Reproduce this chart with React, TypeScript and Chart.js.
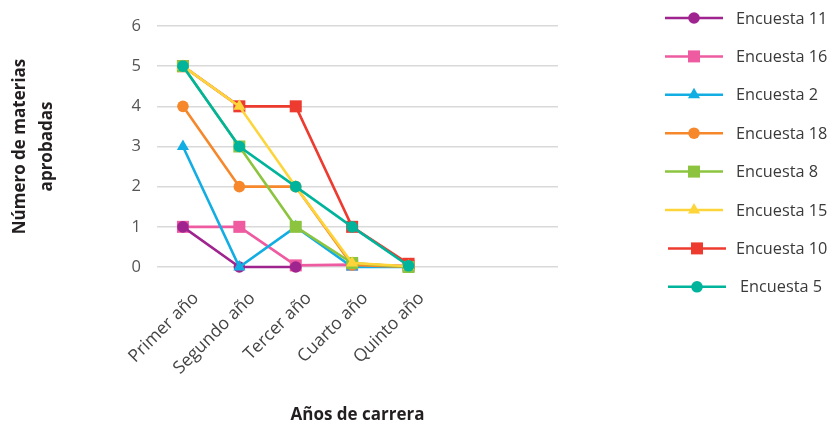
import React, { useEffect, useRef } from 'react';
import { Chart, registerables } from 'chart.js';

Chart.register(...registerables);

const categories = ['Primer año', 'Segundo año', 'Tercer año', 'Cuarto año', 'Quinto año'];
const seriesNames = ['Encuesta 11', 'Encuesta 16', 'Encuesta 2', 'Encuesta 18', 'Encuesta 8', 'Encuesta 15', 'Encuesta 10', 'Encuesta 5'];

const encuesta11 = [1, 0, 0, null, null];
const encuesta16 = [1, 1, 0.04, 0.06, 0.03];
const encuesta2 = [3, 0, 1, 0, 0];
const encuesta18 = [4, 2, 2, 0.05, 0];
const encuesta8 = [5, 3, 1, 0.1, 0];
const encuesta15 = [5, 4, 2, 0.1, 0.02];
const encuesta10 = [5, 4, 4, 1, 0.08];
const encuesta5 = [5, 3, 2, 1, 0.03];

const seriesValues = [encuesta11, encuesta16, encuesta2, encuesta18, encuesta8, encuesta15, encuesta10, encuesta5];
const seriesColors = ['#a0248f', '#ef5ba1', '#12aee3', '#f6882b', '#8cc43f', '#fdd53a', '#ee3b30', '#00b49c'];
const seriesShapes = ['circle', 'rect', 'triangle', 'circle', 'rect', 'triangle', 'rect', 'circle'];
// stacking: lower number is drawn on top
const seriesLayer = [6, 7, 5, 4, 2, 1, 3, 0];

const yTicks = [0, 1, 2, 3, 4, 5, 6];

const FONT = '"Open Sans", "DejaVu Sans", sans-serif';

function radiusFor(shape: string) {
  if (shape === 'rect') return 8.5;
  if (shape === 'triangle') return 7;
  return 5.8;
}

function drawMarker(ctx: CanvasRenderingContext2D, shape: string, x: number, y: number, color: string) {
  ctx.fillStyle = color;
  ctx.beginPath();
  if (shape === 'circle') {
    ctx.arc(x, y, 5.8, 0, Math.PI * 2);
  } else if (shape === 'rect') {
    ctx.rect(x - 6, y - 6, 12, 12);
  } else {
    const r = 7;
    for (let k = 0; k < 3; k++) {
      const a = -Math.PI / 2 + (k * 2 * Math.PI) / 3;
      const px = x + r * Math.cos(a);
      const py = y + r * Math.sin(a);
      if (k === 0) ctx.moveTo(px, py);
      else ctx.lineTo(px, py);
    }
    ctx.closePath();
  }
  ctx.fill();
}

const sideLegend = {
  id: 'sideLegend',
  afterDraw(chart: any) {
    const ctx: CanvasRenderingContext2D = chart.ctx;
    ctx.save();
    seriesNames.forEach((name, i) => {
      const y = 18 + i * 38.4;
      const color = seriesColors[i];
      const shift = i >= 6 ? 3 : 0;
      ctx.strokeStyle = color;
      ctx.lineWidth = 2.5;
      ctx.beginPath();
      ctx.moveTo(665 + shift, y);
      ctx.lineTo(723 + shift, y);
      ctx.stroke();
      drawMarker(ctx, seriesShapes[i], 694 + shift, y, color);
      ctx.fillStyle = '#3a3a3a';
      ctx.font = `16.3px ${FONT}`;
      ctx.textAlign = 'left';
      ctx.textBaseline = 'middle';
      ctx.fillText(name, 736 + (i === 7 ? 4 : 0), y + 1);
    });
    ctx.restore();
  },
};

export default function App() {
  const ref = useRef<HTMLCanvasElement | null>(null);

  useEffect(() => {
    document.body.style.margin = '0';
    if (!ref.current) return;
    const datasets = seriesNames.map((name, i) => ({
      label: name,
      data: seriesValues[i].map((v, j) => ({ x: j, y: v })),
      borderColor: seriesColors[i],
      backgroundColor: seriesColors[i],
      pointBackgroundColor: seriesColors[i],
      pointBorderColor: seriesColors[i],
      pointStyle: seriesShapes[i],
      pointRadius: radiusFor(seriesShapes[i]),
      pointBorderWidth: 0,
      borderWidth: 2.6,
      tension: 0,
      spanGaps: false,
      clip: false,
      order: seriesLayer[i],
    }));

    const chart = new Chart(ref.current, {
      type: 'line',
      data: { datasets },
      plugins: [sideLegend],
      options: {
        animation: false,
        responsive: false,
        layout: { padding: { top: 26, right: 273, bottom: 0, left: 0 } },
        plugins: { legend: { display: false }, tooltip: { enabled: false } },
        scales: {
          x: {
            type: 'linear',
            min: -0.46,
            max: 6.65,
            grid: { display: false },
            border: { display: false },
            afterBuildTicks: (s: any) => {
              s.ticks = categories.map((_, i) => ({ value: i }));
            },
            afterFit: (s: any) => {
              s.height = 161;
            },
            ticks: {
              autoSkip: false,
              maxRotation: 45,
              minRotation: 45,
              padding: 13,
              labelOffset: 13,
              color: '#444',
              font: { family: FONT, size: 17.5 },
              callback: (v: any) => categories[v] ?? '',
            },
            title: {
              display: true,
              text: 'Años de carrera',
              color: '#231f20',
              font: { family: FONT, size: 17, weight: 'bold' },
              padding: { top: 0, bottom: 3 },
            },
          },
          y: {
            min: 0,
            max: 6,
            afterBuildTicks: (s: any) => {
              s.ticks = yTicks.map((v) => ({ value: v }));
            },
            afterFit: (s: any) => {
              s.width = 157;
            },
            grid: { color: '#d9d9d9', lineWidth: 1.5, drawTicks: false },
            border: { display: false },
            ticks: {
              padding: 16,
              color: '#555',
              font: { family: FONT, size: 16.5 },
            },
            title: {
              display: true,
              text: ['Número de materias', 'aprobadas'],
              color: '#231f20',
              font: { family: FONT, size: 17, weight: 'bold', lineHeight: 1.59 },
              padding: { top: 6.5, bottom: 0 },
            },
          },
        },
      },
    } as any);
    return () => chart.destroy();
  }, []);

  return (
    <div style={{ width: 831, height: 428, position: 'relative' }}>
      <canvas ref={ref} width={831} height={428} style={{ display: 'block' }} />
    </div>
  );
}
